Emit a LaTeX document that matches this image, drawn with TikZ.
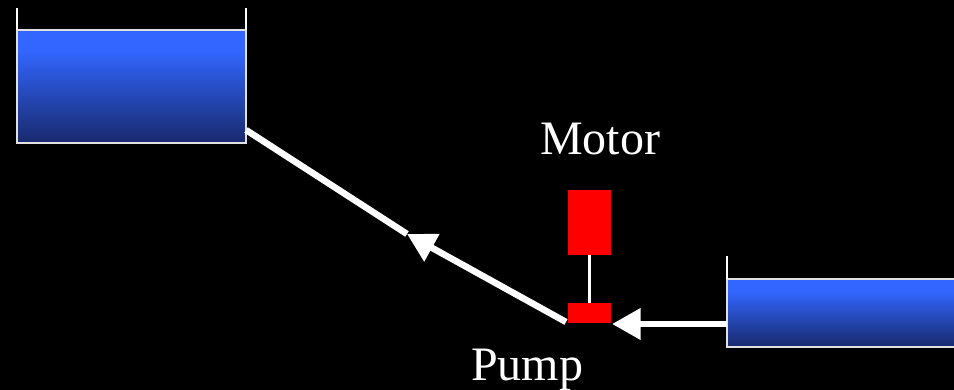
\documentclass[tikz,border=0pt]{standalone}
\usepackage{fontspec}
\setmainfont{Liberation Serif}
\usetikzlibrary{arrows.meta}
\definecolor{tankdark}{RGB}{25,44,115}
\definecolor{tankbright}{RGB}{51,102,255}
\definecolor{tankedge}{RGB}{225,225,225}
\pgfdeclareverticalshading{tankfill}{100bp}{color(0bp)=(tankdark); color(27bp)=(tankdark); color(66bp)=(tankbright); color(100bp)=(tankbright)}
\tikzset{
  tank/.style={draw=tankedge,line width=2pt,shading=tankfill,inner sep=0pt,outer sep=0pt,anchor=north west},
  wall/.style={draw=white,line width=2pt},
  redbox/.style={fill=red,draw=none,inner sep=0pt,outer sep=0pt,anchor=north west},
  shaft/.style={draw=white,line width=2.5pt},
  pipe/.style={draw=white,line width=6.5pt},
  flow/.style={pipe,-{Triangle[length=28.5pt,width=30pt,fill=white]}},
  caption/.style={text=white,font=\fontsize{48}{48}\selectfont,inner sep=0pt,anchor=base west}
}
\begin{document}
\begin{tikzpicture}[x=1pt,y=-1pt]
\fill[black] (0,0) rectangle (954,390);
\useasboundingbox (0,0) rectangle (954,390);
\node[tank,minimum width=229pt,minimum height=113pt] (upper) at (17,30) {};
\node[tank,minimum width=240pt,minimum height=68pt] (lower) at (727,279) {};
\node[redbox,minimum width=43pt,minimum height=65pt] (motor) at (568,190) {};
\node[redbox,minimum width=43pt,minimum height=20pt] (pump) at (568,303) {};
\coordinate (upperwallL) at (17,8);
\coordinate (upperwallR) at (246,8);
\coordinate (lowerwall) at (727,256);
\coordinate (upperport) at (246,130);
\coordinate (lowerport) at (727,324);
\coordinate (pumpin) at (612,324);
\coordinate (pumpout) at (566,322);
\coordinate (midtip) at (407,234);
\draw[wall] (upperwallL) -- (upper.north west);
\draw[wall] (upperwallR) -- (upper.north east);
\draw[wall] (lowerwall) -- (lower.north west);
\draw[shaft] (motor.south) -- (pump.north);
\draw[flow] (lowerport) -- (pumpin);
\draw[flow] (pumpout) -- (midtip);
\draw[pipe] (midtip) -- (upperport);
\node[caption] (motorlabel) at (540,155) {Motor};
\node[caption] (pumplabel) at (471,381) {Pump};
\end{tikzpicture}
\end{document}
